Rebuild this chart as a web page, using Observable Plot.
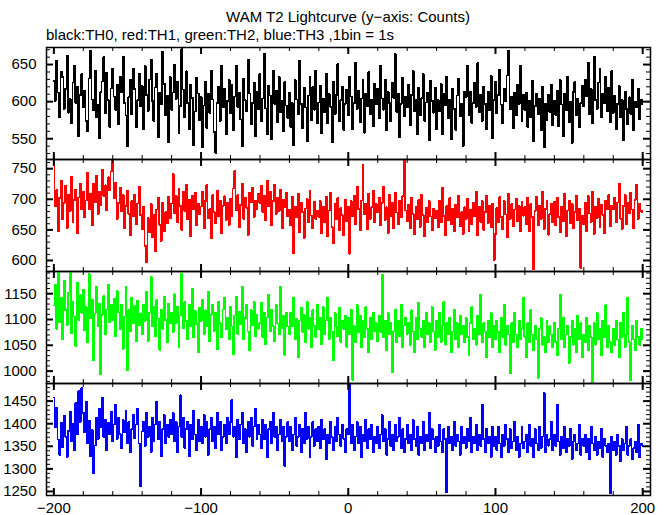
<!DOCTYPE html>
<html><head><meta charset="utf-8">
<script src="https://cdn.jsdelivr.net/npm/d3@7"></script>
<script src="https://cdn.jsdelivr.net/npm/@observablehq/plot@0.6"></script>
<style>
body{margin:0;background:#fff;font-family:"Liberation Sans",Arial,sans-serif;}
#wrap{position:relative;width:669px;height:515px;overflow:hidden;background:#fff;}
#title{position:absolute;left:46px;width:604px;top:9px;text-align:center;font-size:15px;line-height:16px;color:#000;}
#subtitle{position:absolute;left:46px;top:27px;font-size:15px;line-height:16px;color:#000;white-space:nowrap;}
.panel{position:absolute;left:0;}
.panel svg{display:block;overflow:visible;}
</style></head><body>
<div id="wrap">
<div id="title">WAM T2 Lightcurve (y−axis: Counts)</div>
<div id="subtitle">black:TH0, red:TH1, green:TH2, blue:TH3 ,1bin = 1s</div>
</div>
<script>
// time axis: first bin start and bin size (seconds)
const timeStart = -200;
const binSize = 1;

const th0 = [
628,601,655,612,579,640,633,590,617,662,585,604,571,626,648,598,620,553,609,637,
592,615,574,560,631,669,603,588,642,579,596,551,613,627,660,584,639,602,566,618,
645,607,589,623,570,634,612,661,598,581,540,606,629,583,644,617,565,602,638,594,
621,563,648,609,587,630,657,601,574,619,638,552,612,596,667,624,581,608,545,633,
589,612,650,603,627,558,594,671,616,579,641,598,563,623,605,541,587,632,611,575,
606,538,595,627,564,611,585,642,603,559,531,598,620,574,649,592,617,556,601,629,
584,623,561,607,648,593,612,576,540,631,602,587,657,611,569,598,626,553,613,590,
637,574,604,665,591,556,622,608,549,642,597,615,572,633,586,601,560,627,595,578,
612,566,598,541,629,603,583,655,597,564,619,592,546,608,633,575,620,589,642,571,
599,621,557,604,586,638,571,610,593,545,627,583,609,651,574,602,620,562,597,616,
581,634,607,563,598,652,590,615,572,604,629,558,611,594,640,583,603,567,624,596,
618,577,649,604,589,630,561,613,598,573,626,605,664,586,611,552,597,632,580,607,
592,623,568,609,641,587,603,556,619,582,605,637,574,599,612,548,628,601,585,619,
563,602,587,624,556,611,595,634,578,603,549,617,590,562,608,631,580,597,540,614,
606,649,582,613,571,598,626,593,652,586,609,574,620,597,563,614,588,635,551,602,
627,584,609,643,596,571,618,600,635,669,590,607,564,612,581,623,597,648,573,609,
589,612,566,601,579,628,547,594,611,583,604,561,620,538,597,575,609,586,623,568,
601,582,615,567,629,596,553,611,588,634,572,600,544,613,627,581,604,565,598,621,
594,630,607,652,583,617,571,661,602,590,626,645,579,611,598,634,587,619,572,641,
585,608,563,597,621,579,602,548,614,590,569,606,583,629,561,600,592,618,576,603,
596];

const th1 = [
762,689,715,648,702,731,667,694,722,653,708,681,737,662,699,716,645,703,726,684,
712,671,698,743,684,709,657,726,695,738,676,713,691,749,705,723,682,736,714,745,
766,702,727,668,694,719,681,707,652,689,714,676,641,697,672,708,659,693,721,674,
651,688,624,597,670,646,692,638,675,615,683,702,658,632,695,647,679,661,704,669,
693,741,677,705,662,718,689,650,712,681,724,667,699,640,706,684,711,658,693,675,
688,712,652,697,723,669,684,636,707,679,661,714,672,698,645,689,705,666,694,658,
701,673,718,746,682,707,654,691,725,668,703,686,642,711,695,719,671,698,683,709,
694,722,679,706,665,731,688,712,657,697,724,676,703,681,716,652,699,687,711,672,
683,657,704,612,688,671,709,646,694,679,637,685,701,662,714,673,652,696,668,681,
671,697,645,688,662,704,639,682,711,655,628,693,667,702,649,686,674,641,699,664,
688,611,697,672,706,659,721,684,649,698,756,676,693,651,709,668,687,714,662,692,
679,703,658,694,721,666,687,645,708,673,695,652,711,678,659,698,671,705,764,682,
664,691,652,703,676,643,688,667,699,655,708,674,639,686,662,697,672,649,684,669,
681,654,698,662,719,673,641,689,666,702,659,684,647,691,671,706,656,679,643,687,
668,701,647,683,659,694,672,712,641,688,663,697,650,679,706,661,689,654,693,601,
643,686,662,704,671,651,697,675,638,709,668,692,656,683,701,664,689,648,696,673,
687,659,703,648,692,671,586,681,704,657,689,668,712,651,684,697,642,676,693,662,
696,657,702,671,646,688,664,709,639,682,698,661,693,652,679,706,665,684,588,673,
659,694,648,705,677,663,712,643,688,669,701,654,691,674,645,698,683,707,656,689,
684,703,662,695,726,668,651,689,707,659,694,677,711,683,652,699,724,668,693,681,
679];

const th2 = [
1127,1168,1082,1191,1095,1143,1061,1176,1118,1089,1152,1192,1074,1135,1106,1048,1171,1099,1147,1113,
1158,1079,1124,1056,1188,1103,1139,1021,1112,1163,1087,1131,993,1109,1146,1072,1119,1167,1094,1128,
1098,1141,1068,1155,1114,1081,1129,1043,1106,1164,1001,1118,1077,1143,1092,1126,1057,1136,1088,1112,
1071,1129,1097,1154,1058,1113,1183,1086,1124,1067,1138,1102,1041,1119,1082,1145,1099,1055,1131,1092,
1114,1076,1149,1093,1125,1047,1108,1189,1083,1134,1097,1062,1128,1087,1159,1066,1116,1091,1036,1123,
1097,1138,1071,1118,1086,1154,1057,1109,1129,1078,1113,1042,1134,1093,1066,1119,1143,1081,1103,1061,
1124,1086,1032,1108,1144,1072,1115,1091,1163,1062,1103,1128,1077,1041,1118,1088,1134,1067,1109,1082,
1093,1133,1066,1114,1052,1104,1148,1077,1119,1087,1057,1128,1092,1071,1164,1083,1108,1031,1113,1086,
1072,1114,1087,1143,1061,1102,1027,1098,1123,1076,1109,1056,1134,1082,1103,1046,1118,1088,1066,1129,
1081,1104,1052,1124,1071,1098,1143,1062,1104,1077,1021,1113,1087,1067,1123,1056,1098,1082,1108,1047,
1103,1071,1119,983,1087,1056,1128,1076,1108,1046,1098,1066,1124,1082,1036,1104,1061,1114,1077,1093,
1057,1108,1076,1187,1066,1098,1041,1113,1072,1093,997,1077,1119,1056,1098,1067,1129,1046,1088,1103,
1072,1093,1051,1118,1077,1036,1103,1061,1133,1082,1066,1098,1046,1114,1071,1093,1056,1124,1077,1041,
1098,1066,1113,1056,1088,1134,1051,1093,1071,1104,1036,1077,1119,1061,1093,1046,1108,1071,1088,1056,
1103,1066,1031,1093,1124,1061,1083,1051,1108,1071,1148,1056,1093,1077,1026,1098,1066,1113,1046,1088,
1061,1098,1076,1036,1103,1066,1128,1051,1088,1071,996,1093,1056,1113,1071,1046,1098,1061,1083,1143,
1066,1026,1093,1056,1118,1071,1041,1088,1061,987,1083,1103,1051,1066,1036,1098,1056,1088,1071,1046,
1093,1056,1031,1083,1148,1061,1103,1046,1071,1088,1016,1066,1098,1051,1083,1036,1108,1061,1093,1026,
1071,1056,1103,1041,1088,1066,978,1093,1051,1113,1061,1083,1031,1098,1066,1128,1046,1088,1056,1036,
1083,1051,1098,1061,1026,1093,1066,1113,1046,1071,1143,1056,982,1088,1061,1041,1098,1066,1051,1083,
1061];

const th3 = [
1458,1392,1436,1365,1331,1402,1347,1418,1371,1326,1384,1427,1361,1399,1342,1446,1376,1472,1404,1479,
1424,1381,1449,1356,1407,1327,1386,1291,1352,1414,1366,1434,1393,1458,1371,1409,1341,1403,1376,1426,
1361,1398,1443,1366,1414,1377,1346,1409,1381,1429,1356,1404,1336,1388,1419,1367,1398,1434,1356,1262,
1383,1404,1351,1424,1371,1394,1337,1414,1362,1398,1449,1366,1404,1327,1388,1419,1356,1398,1371,1409,
1376,1424,1361,1404,1336,1394,1463,1371,1414,1346,1388,1404,1327,1398,1366,1429,1376,1341,1409,1361,
1394,1356,1419,1371,1404,1331,1388,1414,1361,1394,1346,1424,1376,1404,1341,1371,1398,1356,1414,1376,
1404,1453,1371,1394,1326,1409,1366,1398,1424,1356,1388,1336,1404,1371,1414,1351,1394,1434,1366,1398,
1376,1346,1409,1366,1398,1326,1388,1404,1356,1424,1371,1394,1341,1376,1409,1361,1394,1306,1371,1404,
1361,1394,1341,1376,1414,1351,1371,1398,1336,1388,1356,1424,1366,1394,1326,1371,1404,1351,1388,1361,
1394,1346,1409,1366,1388,1321,1376,1356,1404,1371,1341,1394,1361,1414,1376,1351,1398,1366,1336,1388,
1376,1488,1356,1398,1341,1371,1404,1356,1394,1326,1376,1361,1409,1346,1388,1366,1398,1336,1371,1356,
1394,1346,1376,1419,1361,1388,1331,1366,1404,1351,1376,1341,1398,1361,1371,1414,1346,1388,1336,1366,
1398,1356,1376,1341,1409,1366,1351,1394,1331,1371,1356,1404,1341,1376,1361,1424,1346,1388,1366,1336,
1371,1351,1398,1361,1336,1388,1366,1248,1394,1356,1371,1341,1404,1351,1376,1361,1331,1394,1356,1371,
1346,1388,1361,1414,1336,1371,1356,1398,1341,1376,1351,1443,1366,1336,1388,1356,1371,1326,1394,1351,
1371,1341,1394,1356,1326,1376,1351,1398,1366,1336,1388,1346,1361,1404,1341,1371,1326,1356,1394,1346,
1361,1376,1336,1398,1351,1366,1326,1388,1356,1341,1394,1346,1371,1468,1336,1376,1351,1366,1404,1341,
1376,1351,1443,1361,1331,1371,1346,1394,1336,1366,1351,1388,1321,1361,1376,1341,1356,1398,1331,1366,
1351,1376,1336,1366,1321,1394,1356,1341,1371,1331,1361,1346,1388,1326,1366,1351,1336,1356,1246,1371,
1341,1361,1331,1376,1351,1316,1366,1341,1356,1394,1331,1351,1366,1321,1346,1361,1336,1398,1326,1356,
1351];

const seriesColors = ["#000000", "#ff0000", "#00ff00", "#0000ff"];
const yDomains = [[522, 673], [582, 765], [976, 1193], [1241, 1489]];
const yTickLabels = [[550, 600, 650], [600, 650, 700, 750], [1000, 1050, 1100, 1150], [1250, 1300, 1350, 1400, 1450]];
const xDomain = [-205, 205.3];
const xTickLabels = [-200, -100, 0, 100, 200];

const W = 669, ML = 46, MR = 19, PH = 112;
const innerW = W - ML - MR;
const tops = [47, 159, 271, 383];
const fmt = d3.format("d");

function panel(values, idx, last) {
  const data = values.map((v, i) => ({t: timeStart + i * binSize, v}));
  const [y0, y1] = yDomains[idx];
  const yMinor = d3.range(Math.ceil(y0 / 10) * 10, y1, 10);
  const xMinor = d3.range(-200, 201, 20);
  const mb = last ? 20 : 0;
  return Plot.plot({
    width: W, height: PH + mb,
    marginLeft: ML, marginRight: MR, marginTop: 0, marginBottom: mb,
    x: {domain: xDomain, axis: null},
    y: {domain: yDomains[idx], axis: null},
    style: {fontFamily: "'Liberation Sans', Arial, sans-serif", fontSize: "15px", color: "#000", background: "transparent", overflow: "visible"},
    marks: [
      Plot.line(data, {x: "t", y: "v", stroke: seriesColors[idx], strokeWidth: 1.5, curve: "step", clip: true, shapeRendering: "crispEdges"}),
      // inward minor/major y ticks, left and right
      Plot.tickY(yMinor, {y: d => d, insetRight: innerW - 4, stroke: "#000", strokeWidth: 1}),
      Plot.tickY(yMinor, {y: d => d, insetLeft: innerW - 4, stroke: "#000", strokeWidth: 1}),
      Plot.tickY(yTickLabels[idx], {y: d => d, insetRight: innerW - 7, stroke: "#000", strokeWidth: 2}),
      Plot.tickY(yTickLabels[idx], {y: d => d, insetLeft: innerW - 7, stroke: "#000", strokeWidth: 2}),
      // inward x ticks, top and bottom
      Plot.tickX(xMinor, {x: d => d, insetBottom: PH - 4, stroke: "#000", strokeWidth: 1}),
      Plot.tickX(xMinor, {x: d => d, insetTop: PH - 4, stroke: "#000", strokeWidth: 1}),
      Plot.tickX(xTickLabels, {x: d => d, insetBottom: PH - 7, stroke: "#000", strokeWidth: 2}),
      Plot.tickX(xTickLabels, {x: d => d, insetTop: PH - 7, stroke: "#000", strokeWidth: 2}),
      Plot.frame({stroke: "#000", strokeWidth: 1.5}),
      Plot.axisY(yTickLabels[idx], {tickSize: 0, tickPadding: 10, tickFormat: fmt, fontSize: 15, label: null}),
      last ? Plot.axisX(xTickLabels, {tickSize: 0, tickPadding: 7, tickFormat: fmt, fontSize: 15, label: null}) : null
    ]
  });
}

const wrap = document.getElementById("wrap");
[th0, th1, th2, th3].forEach((vals, i) => {
  const div = document.createElement("div");
  div.className = "panel";
  div.style.top = tops[i] + "px";
  div.appendChild(panel(vals, i, i === 3));
  wrap.appendChild(div);
});
</script>
</body></html>
